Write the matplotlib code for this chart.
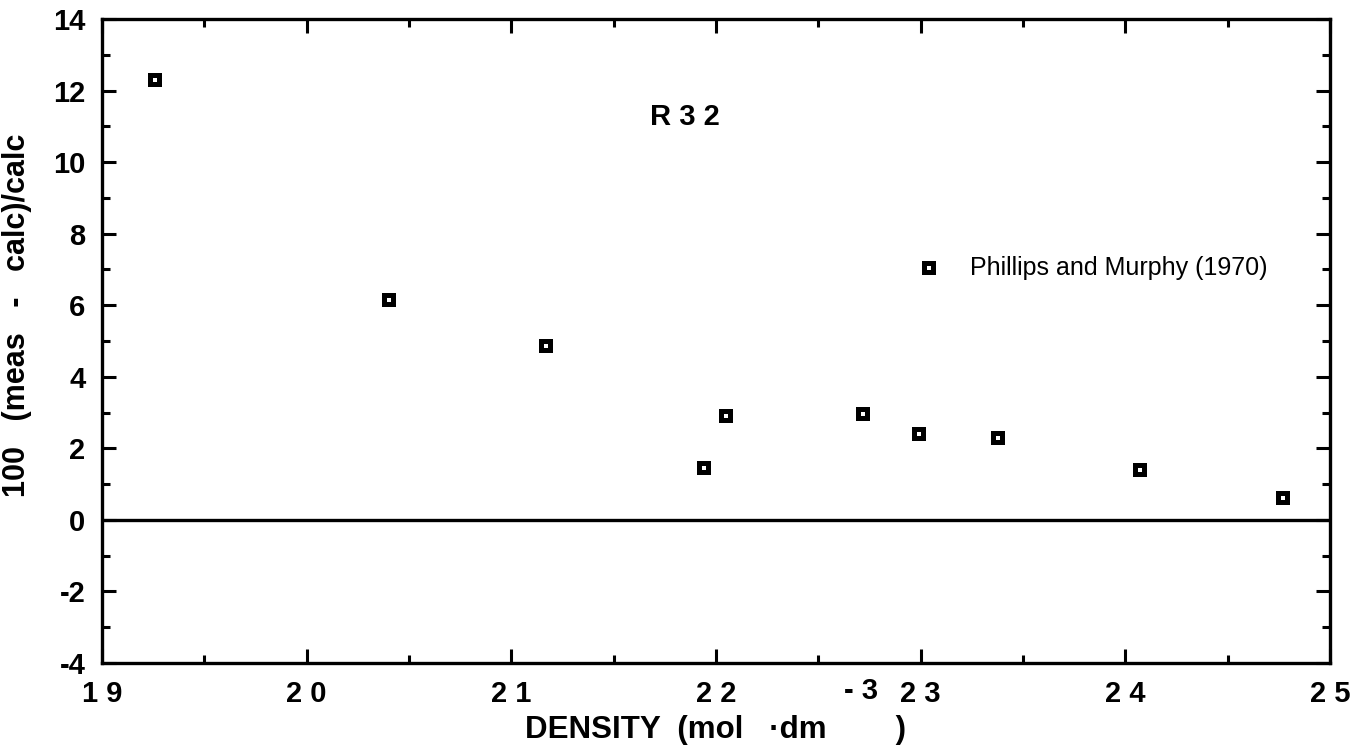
#!/usr/bin/python3

import numpy as np
import matplotlib.pyplot as plt
from matplotlib.ticker import MultipleLocator

# data
density = [19.26, 20.40, 21.17, 21.94, 22.05, 22.72, 22.99, 23.38, 24.07, 24.77]
deviation = [12.3, 6.15, 4.85, 1.45, 2.9, 2.95, 2.4, 2.3, 1.4, 0.6]
xticks = [19, 20, 21, 22, 23, 24, 25]
xticklabels = ["1 9", "2 0", "2 1", "2 2", "2 3", "2 4", "2 5"]
yticks = [-4, -2, 0, 2, 4, 6, 8, 10, 12, 14]

plt.rcParams['font.family'] = ['Liberation Sans', 'DejaVu Sans']
plt.rcParams['axes.unicode_minus'] = False

fig = plt.figure(figsize=(13.64, 7.48), dpi=100)
ax = fig.add_axes([0.0748, 0.1136, 0.9002, 0.861])

# zero reference line
ax.axhline(0, color='black', lw=2.4)

# black squares with a small white centre
ax.plot(density, deviation, 's', color='black', ms=10, mew=0, zorder=3)
ax.plot(density, deviation, 's', color='white', ms=3, mew=0, zorder=4)

ax.set_xlim(19, 25)
ax.set_ylim(-4, 14)
ax.set_xticks(xticks)
ax.set_xticklabels(xticklabels)
ax.set_yticks(yticks)
ax.xaxis.set_minor_locator(MultipleLocator(0.5))
ax.yaxis.set_minor_locator(MultipleLocator(1))

ax.tick_params(which='both', direction='in', top=True, right=True, width=2.2)
ax.tick_params(which='major', length=10, labelsize=21, pad=12)
ax.tick_params(which='minor', length=6)
for lbl in ax.get_xticklabels() + ax.get_yticklabels():
  lbl.set_fontweight('bold')
for s in ax.spines.values():
  s.set_linewidth(2.4)

ax.set_xlabel("DENSITY  (mol   \u00b7dm        )", fontsize=22.5, fontweight='bold', labelpad=5)
ax.set_ylabel("100   (meas   -   calc)/calc", fontsize=22, fontweight='bold')
ax.yaxis.set_label_coords(-0.057, 0.54)
# stray superscript of the density unit sits on the tick label row
ax.text(22.71, -4.38, "- 3", fontsize=21, fontweight='bold', ha='center', va='top')

ax.text(21.85, 11.27, "R 3 2", fontsize=21, fontweight='bold', ha='center', va='center')

# legend drawn as in the original
ax.plot([23.04], [7.05], 's', color='black', ms=10, mew=0)
ax.plot([23.04], [7.05], 's', color='white', ms=3, mew=0)
ax.text(23.24, 7.05, "Phillips and Murphy (1970)", fontsize=18, va='center')

fig.savefig("out.png", dpi=100)
